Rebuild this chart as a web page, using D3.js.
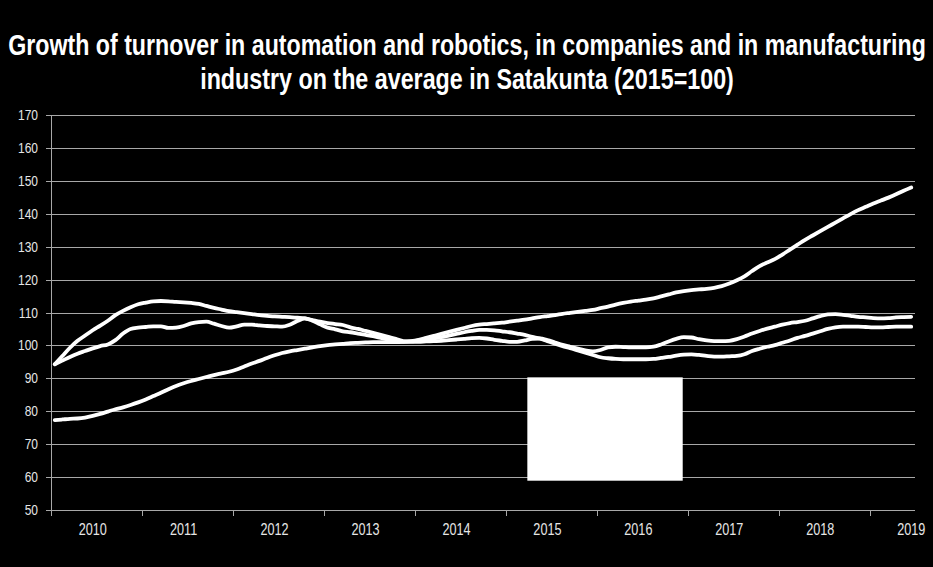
<!DOCTYPE html>
<html>
<head>
<meta charset="utf-8">
<script src="https://cdn.jsdelivr.net/npm/d3@7"></script>
<style>
  html, body { margin: 0; padding: 0; background: #000; }
  svg { display: block; }
</style>
</head>
<body>
<svg id="chart" width="933" height="567"></svg>
<script>
// ---- Data (monthly, Jan 2010 – Jun 2019, index 2015 = 100) ----
const titleLines = [
  "Growth of turnover in automation and robotics, in companies and in manufacturing",
  "industry on the average in Satakunta (2015=100)"
];
const years = ["2010","2011","2012","2013","2014","2015","2016","2017","2018","2019"];
const yTicks = [50,60,70,80,90,100,110,120,130,140,150,160,170];

const automationRobotics = [
  77.3,77.5,77.7,77.8,78.1,78.6,79.2,79.9,80.6,81.2,81.9,82.7,
  83.6,84.6,85.6,86.7,87.7,88.5,89.2,89.8,90.4,91.0,91.5,92.0,
  92.7,93.6,94.5,95.3,96.2,97.0,97.7,98.2,98.6,99.0,99.4,99.8,
  100.1,100.3,100.5,100.7,100.8,100.9,101.0,101.0,101.0,101.0,101.1,101.3,
  101.7,102.3,102.9,103.5,104.1,104.7,105.3,105.9,106.3,106.5,106.7,106.9,
  107.2,107.5,107.8,108.2,108.6,108.9,109.2,109.6,109.9,110.2,110.5,110.8,
  111.3,111.8,112.4,112.9,113.3,113.6,113.9,114.3,114.9,115.5,116.1,116.5,
  116.8,117.0,117.2,117.5,118.0,118.8,119.8,121.0,122.6,124.1,125.2,126.2,
  127.6,129.1,130.6,132.1,133.4,134.7,136.0,137.3,138.6,139.9,141.1,142.1,
  143.1,144.0,144.9,145.9,147.0,148.0
];
const companies = [
  94.3,96.8,99.3,101.4,103.0,104.6,106.0,107.5,109.2,110.5,111.6,112.5,
  113.0,113.4,113.5,113.4,113.2,113.1,112.9,112.6,112.0,111.4,110.9,110.4,
  110.1,109.8,109.5,109.2,109.0,108.8,108.7,108.6,108.4,108.2,107.7,107.2,
  106.8,106.5,106.2,105.5,105.0,104.4,103.8,103.2,102.6,102.0,101.3,101.2,
  101.5,101.8,102.2,102.5,103.0,103.5,104.0,104.4,104.7,104.7,104.6,104.3,
  104.0,103.6,103.2,102.6,102.1,101.3,100.5,99.8,99.2,98.5,97.8,97.1,
  96.4,96.1,95.9,95.8,95.8,95.8,95.8,95.9,96.2,96.5,96.9,97.2,
  97.3,97.1,96.8,96.6,96.6,96.7,96.8,97.3,98.3,99.0,99.6,100.1,
  100.8,101.5,102.3,102.9,103.6,104.3,105.0,105.5,105.7,105.7,105.7,105.6,
  105.5,105.5,105.6,105.7,105.7,105.7
];
const manufacturing = [
  94.3,95.4,96.5,97.5,98.3,99.1,99.8,100.3,101.6,103.6,105.0,105.4,
  105.6,105.8,105.8,105.3,105.4,105.9,106.7,107.1,107.2,106.6,105.9,105.4,
  105.8,106.3,106.3,106.1,105.9,105.8,105.7,106.3,107.4,108.2,107.5,106.4,
  105.4,104.9,104.3,104.0,103.6,103.2,102.8,102.3,101.8,101.4,101.1,101.1,
  101.1,101.2,101.3,101.4,101.6,101.8,102.0,102.2,102.3,102.1,101.7,101.4,
  101.1,101.1,101.5,102.0,102.1,101.6,100.9,100.2,99.6,99.0,98.5,98.2,
  98.6,99.4,99.6,99.5,99.4,99.4,99.4,99.6,100.3,101.2,102.0,102.5,
  102.4,101.9,101.5,101.3,101.3,101.4,101.9,102.7,103.6,104.4,105.1,105.7,
  106.3,106.8,107.1,107.5,108.2,108.9,109.4,109.5,109.3,109.0,108.7,108.5,
  108.3,108.2,108.3,108.5,108.6,108.7
];
// masking box (in data units: month index, value)
const maskBox = { i0: 62.85, i1: 83.35, v0: 90.3, v1: 58.9 };

// ---- Layout ----
const W = 933, H = 567;
const svg = d3.select("#chart");
svg.append("rect").attr("width", W).attr("height", H).attr("fill", "#000");

const nMonths = automationRobotics.length;
const x = d3.scaleLinear().domain([0, nMonths]).range([51, 915]);
const y = d3.scaleLinear().domain([50, 170]).range([510, 115]);

const gridColor = "#a8a8a8";
const textColor = "#e6e6e6";

// Title
const title = svg.append("g");
titleLines.forEach((t, k) => {
  const g = title.append("g").attr("transform", `translate(${W/2 + 0.5},${55 + k*34})`);
  const txt = g.append("text")
    .attr("text-anchor", "middle")
    .attr("font-family", "'Liberation Sans', Arial, sans-serif")
    .attr("font-weight", "bold")
    .attr("font-size", 29.5)
    .attr("fill", "#fff")
    .text(t);
  const target = k === 0 ? 918 : 534;
  const len = txt.node().getComputedTextLength();
  if (len > 0) txt.attr("transform", `scale(${target/len},1)`);
});

// Grid lines
svg.append("g").selectAll("line").data(yTicks).join("line")
  .attr("x1", 46).attr("x2", 915)
  .attr("y1", d => Math.round(y(d)) + 0.5).attr("y2", d => Math.round(y(d)) + 0.5)
  .attr("stroke", gridColor).attr("stroke-width", 1);

// Y axis line
svg.append("line")
  .attr("x1", 51.5).attr("x2", 51.5).attr("y1", y(170)).attr("y2", y(50) + 6)
  .attr("stroke", gridColor).attr("stroke-width", 1);

// Y labels
svg.append("g").selectAll("text").data(yTicks).join("text")
  .attr("transform", d => `translate(38,${y(d) + 5}) scale(0.8,1)`)
  .attr("text-anchor", "end")
  .attr("font-family", "'Liberation Sans', Arial, sans-serif")
  .attr("font-size", 15)
  .attr("fill", textColor)
  .text(d => d);

// X ticks
const xTickIdx = years.map((_, k) => k * 12);
svg.append("g").selectAll("line").data(xTickIdx).join("line")
  .attr("x1", d => Math.round(x(d)) + 0.5).attr("x2", d => Math.round(x(d)) + 0.5)
  .attr("y1", y(50)).attr("y2", y(50) + 6)
  .attr("stroke", gridColor).attr("stroke-width", 1);

// X labels
svg.append("g").selectAll("text").data(years).join("text")
  .attr("transform", (d, k) => `translate(${x(k*12 + 5.5)},${535}) scale(0.79,1)`)
  .attr("text-anchor", "middle")
  .attr("font-family", "'Liberation Sans', Arial, sans-serif")
  .attr("font-size", 16)
  .attr("fill", textColor)
  .text(d => d);

// Lines
const line = d3.line()
  .x((d, i) => x(i + 0.5))
  .y(d => y(d))
  .curve(d3.curveMonotoneX);

[automationRobotics, companies, manufacturing].forEach(series => {
  svg.append("path")
    .datum(series)
    .attr("d", line)
    .attr("fill", "none")
    .attr("stroke", "#fff")
    .attr("stroke-width", 3.8)
    .attr("stroke-linejoin", "round")
    .attr("stroke-linecap", "round");
});

// White masking box
svg.append("rect")
  .attr("x", x(maskBox.i0)).attr("y", y(maskBox.v0))
  .attr("width", x(maskBox.i1) - x(maskBox.i0))
  .attr("height", y(maskBox.v1) - y(maskBox.v0))
  .attr("fill", "#fff");
</script>
</body>
</html>
